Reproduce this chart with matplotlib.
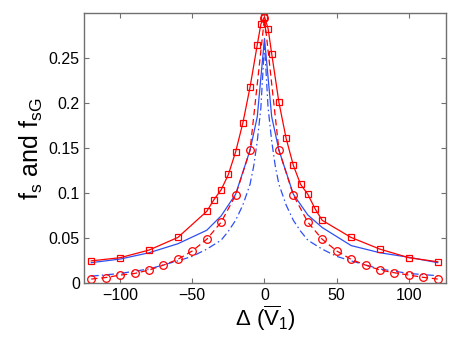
import matplotlib
matplotlib.use("Agg")
import matplotlib.pyplot as plt

plt.rcParams['font.family'] = ['Liberation Sans', 'DejaVu Sans']
plt.rcParams['mathtext.fontset'] = 'custom'
plt.rcParams['mathtext.rm'] = 'Liberation Sans'
plt.rcParams['mathtext.it'] = 'Liberation Sans'
plt.rcParams['mathtext.bf'] = 'Liberation Sans:bold'

# Red solid with squares
sq_x = [-120, -100, -80, -60, -40, -35, -30, -25, -20, -15, -10, -5, -2.5, 0,
        2.5, 5, 10, 15, 20, 25, 30, 35, 40, 60, 80, 100, 120]
sq_y = [0.025, 0.0285, 0.037, 0.051, 0.080, 0.093, 0.104, 0.121, 0.146, 0.178,
        0.218, 0.265, 0.288, 0.296, 0.283, 0.255, 0.201, 0.161, 0.131, 0.110,
        0.099, 0.083, 0.070, 0.051, 0.038, 0.0285, 0.024]

# Red dashed with circles
ci_x = [-120, -110, -100, -90, -80, -70, -60, -50, -40, -30, -20, -10, 0,
        10, 20, 30, 40, 50, 60, 70, 80, 90, 100, 110, 120]
ci_y = [0.0048, 0.0065, 0.0092, 0.011, 0.0148, 0.0203, 0.0267, 0.036, 0.049,
        0.068, 0.098, 0.148, 0.295, 0.148, 0.098, 0.068, 0.049, 0.036, 0.0267,
        0.0203, 0.0148, 0.0118, 0.0092, 0.0067, 0.0048]

# Blue solid
bs_x = [-120, -100, -80, -60, -40, -30, -20, -10, -5, 0, 5, 10, 20, 30, 40, 60, 80, 100, 120]
bs_y = [0.023, 0.027, 0.034, 0.044, 0.059, 0.075, 0.099, 0.148, 0.185, 0.272,
        0.185, 0.148, 0.099, 0.076, 0.062, 0.042, 0.034, 0.029, 0.023]

# Blue dash-dot
bd_x = [-120, -100, -80, -60, -50, -40, -30, -25, -20, -15, -10, -7.5, -5, -2.5, 0,
        2.5, 5, 7.5, 10, 15, 20, 25, 30, 40, 50, 60, 80, 100, 120]
bd_y = [0.008, 0.011, 0.016, 0.025, 0.030, 0.038, 0.048, 0.058, 0.070, 0.087,
        0.110, 0.130, 0.158, 0.195, 0.266, 0.195, 0.158, 0.130, 0.110, 0.087,
        0.070, 0.058, 0.048, 0.038, 0.030, 0.025, 0.016, 0.011, 0.0085]

xticks = [-100, -50, 0, 50, 100]
xticklabels = ['\u2212100', '\u221250', '0', '50', '100']
yticks = [0, 0.05, 0.1, 0.15, 0.2, 0.25]
yticklabels = ['0', '0.05', '0.1', '0.15', '0.2', '0.25']

fig = plt.figure(figsize=(4.5, 3.46), dpi=100)
ax = fig.add_axes([0.1867, 0.181, 0.8053, 0.7806])

red = '#ff0000'
blue = '#2f4ff5'
ax.plot(bd_x, bd_y, color=blue, lw=0.9, ls=(0, (6, 2.5, 1.2, 2.5)))
ax.plot(bs_x, bs_y, color=blue, lw=0.9, ls='-')
ax.plot(ci_x, ci_y, color=red, lw=0.9, ls=(0, (5, 3)), marker='o',
        markersize=5.5, markerfacecolor='none', markeredgecolor=red, markeredgewidth=0.9)
ax.plot(sq_x, sq_y, color=red, lw=0.9, ls='-', marker='s',
        markersize=5, markerfacecolor='none', markeredgecolor=red, markeredgewidth=0.9)

ax.set_xlim(-125, 126)
ax.set_ylim(0, 0.3)
ax.set_xticks(xticks)
ax.set_xticklabels(xticklabels)
ax.set_yticks(yticks)
ax.set_yticklabels(yticklabels)

for s in ax.spines.values():
    s.set_color('#707070')
    s.set_linewidth(1.0)
ax.tick_params(direction='in', length=3.5, width=0.8, color='#707070',
               top=True, right=True, labelsize=11.5, pad=3, labelcolor='black')

ax.set_xlabel(r'$\Delta\ (\overline{\mathrm{V}}_{1})$', fontsize=16, labelpad=1)
ax.set_ylabel(r'$\mathrm{f_{s}\ and\ f_{sG}}$', fontsize=18, labelpad=3)

fig.savefig('out.png', dpi=100)
